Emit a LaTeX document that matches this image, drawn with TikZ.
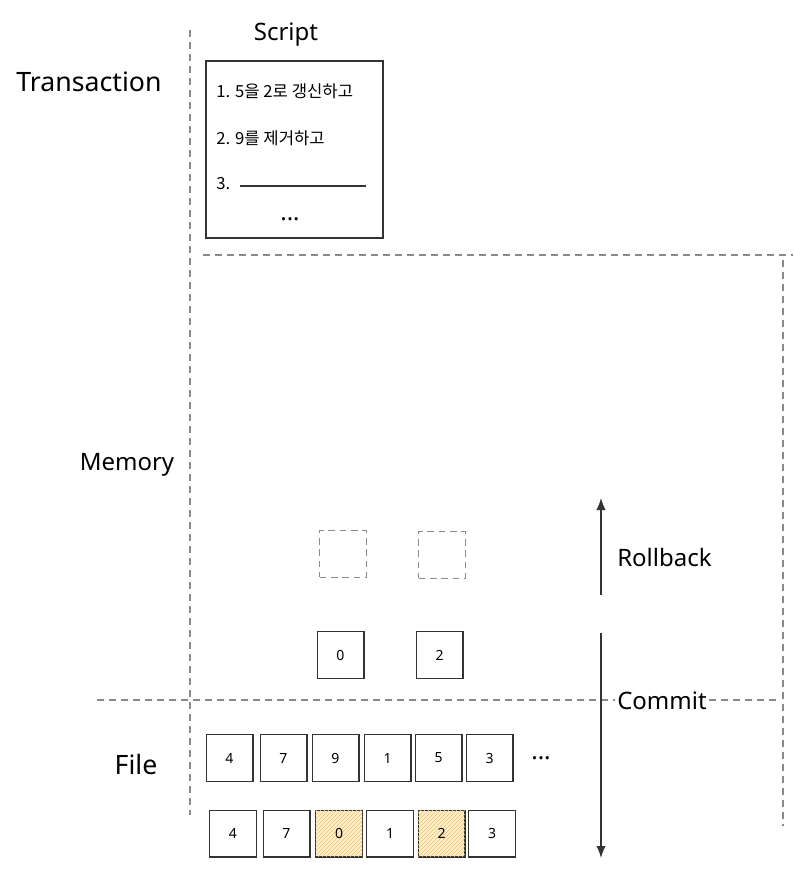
\documentclass[tikz,border=0pt]{standalone}
\usepackage{fontspec}
\setmainfont{Noto Sans}
\newfontfamily\cjk{Noto Sans CJK KR}
\usetikzlibrary{arrows.meta,patterns}
\definecolor{ink}{HTML}{333333}
\definecolor{dashgray}{HTML}{8A8A8A}
\definecolor{hatchfill}{HTML}{FFF1D2}
\definecolor{hatchline}{HTML}{F2BE5E}
\tikzset{
  cell/.style={draw=ink, line width=1pt, minimum width=35pt, minimum height=35pt, inner sep=0pt, font=\fontsize{10.5}{10.5}\selectfont},
  ghost/.style={draw=dashgray, line width=1pt, dash pattern=on 5pt off 3.5pt, minimum width=35pt, minimum height=35pt, inner sep=0pt},
  hatched/.style={fill=hatchfill, postaction={pattern={north east lines}, pattern color=hatchline}},
  sep/.style={draw=dashgray, line width=0.9pt, dash pattern=on 5pt off 4pt},
  lbl/.style={font=\fontsize{18}{18}\selectfont, text=black, inner sep=0pt},
  scr/.style={font=\cjk\fontsize{12.5}{12.5}\selectfont, anchor=west, inner sep=0pt},
  dots/.style={font=\fontsize{18}{18}\selectfont\bfseries, inner sep=0pt},
  arr/.style={draw=ink, line width=1pt, -{Latex[length=9pt,width=7pt]}}
}
\begin{document}
\begin{tikzpicture}[x=0.75pt,y=-0.75pt]
\useasboundingbox (0,0) rectangle (793,871);
% separators
\coordinate (v1a) at (190,30); \coordinate (v1b) at (190,815);
\coordinate (h1a) at (203,255); \coordinate (h1b) at (793,255);
\coordinate (v2a) at (783,260); \coordinate (v2b) at (783,826);
\coordinate (h2a) at (97,700); \coordinate (h2b) at (780,700);
\draw[sep] (v1a) -- (v1b);
\draw[sep] (h1a) -- (h1b);
\draw[sep] (v2a) -- (v2b);
\draw[sep] (h2a) -- (h2b);
% section labels
\node[lbl, font=\fontsize{20}{20}\selectfont] (trans) at (89,82) {Transaction};
\node[lbl] (mem) at (127,465) {Memory};
\node[lbl, font=\fontsize{20}{20}\selectfont] (file) at (136,764) {File};
% script
\node[lbl] (stitle) at (286,35) {Script};
\node[draw=ink, line width=1pt, minimum width=132.75pt, minimum height=132.75pt, inner sep=0pt] (script) at (294.5,149.5) {};
\node[scr] (s1) at (216,91) {1. 5을 2로 갱신하고};
\node[scr] (s2) at (216,138) {2. 9를 제거하고};
\node[scr] (s3) at (216,184) {3.};
\coordinate (l3a) at (240,186); \coordinate (l3b) at (366,186);
\draw[ink, line width=1pt] (l3a) -- (l3b);
\node[dots] (sdots) at (290,219) {...};
% memory
\node[ghost] (g1) at (343,554) {};
\node[ghost] (g2) at (442,555) {};
\node[cell] (m1) at (340.5,655) {0};
\node[cell] (m2) at (439.5,655) {2};
% file row 1
\node[cell] (f1) at (229.5,758) {4};
\node[cell] (f2) at (283.5,758) {7};
\node[cell] (f3) at (335.5,758) {9};
\node[cell] (f4) at (387.5,758) {1};
\node[cell] (f5) at (438.5,758) {5};
\node[cell] (f6) at (489.5,758) {3};
\node[dots] (fdots) at (541,758) {...};
% file row 2
\node[cell] (n1) at (233,833.5) {4};
\node[cell] (n2) at (286.5,833.5) {7};
\node[cell, hatched] (n3) at (339,833.5) {0};
\node[cell] (n4) at (390,833.5) {1};
\node[cell, hatched] (n5) at (441.5,833.5) {2};
\node[cell] (n6) at (492,833.5) {3};
% arrows
\coordinate (ua) at (601,595); \coordinate (ub) at (601,498);
\coordinate (da) at (601,633); \coordinate (db) at (601,858);
\draw[arr] (ua) -- (ub);
\draw[arr] (da) -- (db);
\node[lbl, anchor=west] (rb) at (617,557) {Rollback};
\node[lbl, fill=white, inner xsep=2pt] (cm) at (662,701) {Commit};
\end{tikzpicture}
\end{document}
